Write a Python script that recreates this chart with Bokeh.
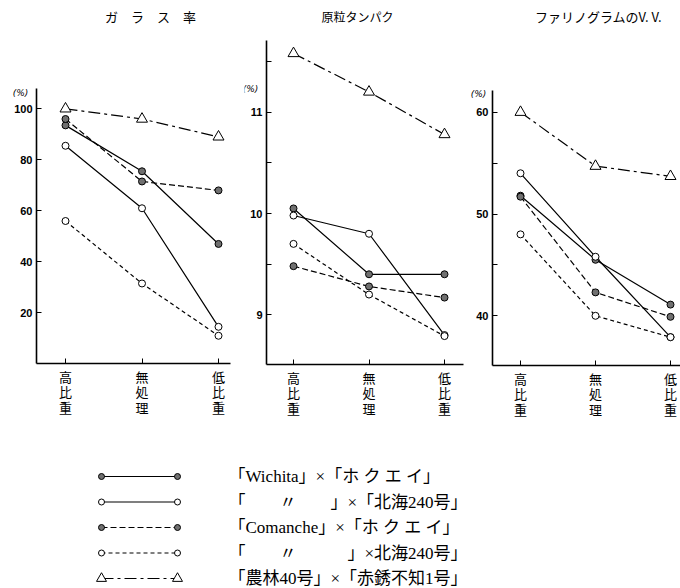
from bokeh.plotting import figure
from bokeh.layouts import column, row
from bokeh.models import Range1d, FixedTicker, Label
from bokeh.core.properties import value
from bokeh.embed import file_html
from bokeh.resources import INLINE

# ---------------- data ----------------
categories = ["高比重", "無処理", "低比重"]
category_tick_labels = ["高\n比\n重", "無\n処\n理", "低\n比\n重"]
x_pos = [0, 1, 2]

panel_titles = ["ガ　ラ　ス　率", "原粒タンパク", "ファリノグラムのV. V."]
unit_label = "(%)"

series_labels = [
    "「Wichita」×「ホ ク エ イ」",
    "「　　〃　　」×「北海240号」",
    "「Comanche」×「ホ ク エ イ」",
    "「　　〃　　　」×北海240号」",
    "「農林40号」×「赤銹不知1号」",
]

# ガラス率 (%)
glass_wichita_hokuei = [93.5, 75.5, 47.0]
glass_wichita_hokkai = [85.5, 61.0, 14.5]
glass_comanche_hokuei = [96.0, 71.5, 68.0]
glass_comanche_hokkai = [56.0, 31.5, 11.0]
glass_norin = [100.0, 96.0, 89.0]
glass_ticks = [20, 40, 60, 80, 100]

# 原粒タンパク (%)
protein_wichita_hokuei = [10.05, 9.40, 9.40]
protein_wichita_hokkai = [9.98, 9.80, 8.80]
protein_comanche_hokuei = [9.48, 9.28, 9.17]
protein_comanche_hokkai = [9.70, 9.20, 8.79]
protein_norin = [11.58, 11.20, 10.78]
protein_ticks = [9, 10, 11]
protein_minor_ticks = [9.5, 10.5, 11.5]

# ファリノグラムの V.V.
vv_wichita_hokuei = [51.8, 45.5, 41.1]
vv_wichita_hokkai = [54.0, 45.8, 37.9]
vv_comanche_hokuei = [51.7, 42.3, 39.9]
vv_comanche_hokkai = [48.0, 40.0, 37.9]
vv_norin = [60.0, 54.7, 53.7]
vv_ticks = [40, 50, 60]
vv_minor_ticks = [45, 55]

# ---------------- styles ----------------
CJK = "Noto Sans CJK JP"
SERIF = "'Liberation Serif', 'Noto Sans CJK JP'"
GREY = "#707070"

styles = [
    dict(dash="solid", marker="circle", fill=GREY, size=7, width=1.2),
    dict(dash="solid", marker="circle", fill="white", size=7, width=1.2),
    dict(dash="6 3", marker="circle", fill=GREY, size=7, width=1.2),
    dict(dash="4 3", marker="circle", fill="white", size=7, width=1.2),
    dict(dash="12 4 3 4", marker="triangle", fill="white", size=11, width=1.2),
]

FIG_TOP, FIG_BOTTOM = 0, 420


def make_panel(series, fig_l, fig_r, cat_px, y_ref, y_axis_px, y_axis_top,
               x_axis_py, x_axis_right, ticks, minor_ticks,
               title, title_pos, title_size, unit_pos):
    step = (cat_px[2] - cat_px[0]) / 2.0
    x_start = (fig_l - cat_px[0]) / step
    x_end = (fig_r - cat_px[0]) / step
    (v1, py1), (v2, py2) = y_ref
    ppu = (py1 - py2) / (v2 - v1)
    y_start = v1 - (FIG_BOTTOM - py1) / ppu
    y_end = v1 + (py1 - FIG_TOP) / ppu

    def dx(sx):
        return x_start + (sx - fig_l) / step

    def dy(sy):
        return y_start + (FIG_BOTTOM - sy) / ppu

    p = figure(width=fig_r - fig_l, height=FIG_BOTTOM - FIG_TOP,
               x_range=Range1d(x_start, x_end), y_range=Range1d(y_start, y_end),
               output_backend="svg", toolbar_location=None, min_border=0)
    p.outline_line_color = None
    p.xgrid.visible = False
    p.ygrid.visible = False
    p.background_fill_color = "white"
    p.border_fill_color = "white"

    # x axis
    xa = p.xaxis[0]
    xa.fixed_location = dy(x_axis_py)
    xa.bounds = (dx(y_axis_px), dx(x_axis_right))
    xa.ticker = FixedTicker(ticks=x_pos, minor_ticks=[])
    xa.major_label_overrides = {x: lab for x, lab in zip(x_pos, category_tick_labels)}
    xa.major_label_text_font = CJK
    xa.major_label_text_font_size = "13px"
    xa.major_label_text_line_height = 0.82
    xa.major_label_text_color = "black"
    xa.major_label_standoff = 3
    xa.major_tick_in = 5
    xa.major_tick_out = 0
    xa.axis_line_width = 1.6
    xa.axis_line_color = "black"
    xa.major_tick_line_color = "black"

    # y axis
    ya = p.yaxis[0]
    ya.fixed_location = dx(y_axis_px)
    ya.bounds = (dy(x_axis_py), dy(y_axis_top))
    ya.ticker = FixedTicker(ticks=ticks, minor_ticks=minor_ticks)
    ya.major_label_text_font = "Liberation Sans"
    ya.major_label_text_font_style = "bold"
    ya.major_label_text_font_size = "11px"
    ya.major_label_text_color = "black"
    ya.major_label_standoff = 4
    ya.major_tick_in = 5
    ya.major_tick_out = 0
    ya.minor_tick_in = 5
    ya.minor_tick_out = 0
    ya.axis_line_width = 1.6
    ya.axis_line_color = "black"
    ya.major_tick_line_color = "black"
    ya.minor_tick_line_color = "black"

    for vals, st in zip(series, styles):
        p.line(x_pos, vals, line_color="black", line_width=st["width"], line_dash=st["dash"])
    for vals, st in zip(series, styles):
        p.scatter(x_pos, vals, marker=st["marker"], size=st["size"],
                  fill_color=st["fill"], line_color="black", line_width=1)

    p.add_layout(Label(x=dx(title_pos[0]), y=dy(title_pos[1]), text=title,
                       text_font=CJK, text_font_size=title_size,
                       text_align="center", text_baseline="middle", text_color="black"))
    p.add_layout(Label(x=dx(unit_pos[0]), y=dy(unit_pos[1]), text=unit_label,
                       text_font="DejaVu Sans", text_font_size="9px",
                       text_font_style="italic",
                       text_align="center", text_baseline="middle", text_color="black"))
    return p


p1 = make_panel([glass_wichita_hokuei, glass_wichita_hokkai, glass_comanche_hokuei,
                 glass_comanche_hokkai, glass_norin],
                fig_l=0, fig_r=244, cat_px=(65, 140, 218),
                y_ref=((20, 312.3), (100, 108.3)), y_axis_px=36, y_axis_top=88,
                x_axis_py=363, x_axis_right=230,
                ticks=glass_ticks, minor_ticks=[],
                title=panel_titles[0], title_pos=(150, 16), title_size="13px",
                unit_pos=(20, 92))

p2 = make_panel([protein_wichita_hokuei, protein_wichita_hokkai, protein_comanche_hokuei,
                 protein_comanche_hokkai, protein_norin],
                fig_l=244, fig_r=470, cat_px=(293, 369, 444),
                y_ref=((9, 314.3), (11, 111.7)), y_axis_px=266, y_axis_top=40,
                x_axis_py=364, x_axis_right=463,
                ticks=protein_ticks, minor_ticks=protein_minor_ticks,
                title=panel_titles[1], title_pos=(357, 16), title_size="12px",
                unit_pos=(250, 88))

p3 = make_panel([vv_wichita_hokuei, vv_wichita_hokkai, vv_comanche_hokuei,
                 vv_comanche_hokkai, vv_norin],
                fig_l=470, fig_r=680, cat_px=(520, 595, 670),
                y_ref=((40, 315.3), (60, 111.7)), y_axis_px=492, y_axis_top=90,
                x_axis_py=365, x_axis_right=680,
                ticks=vv_ticks, minor_ticks=vv_minor_ticks,
                title=panel_titles[2], title_pos=(598, 16), title_size="13px",
                unit_pos=(478, 93))

# ---------------- legend (drawn in its own strip) ----------------
leg = figure(width=680, height=168, x_range=Range1d(0, 680), y_range=Range1d(588, 420),
             output_backend="svg", toolbar_location=None,
             x_axis_type=None, y_axis_type=None, min_border=0)
leg.outline_line_color = None
leg.xgrid.visible = False
leg.ygrid.visible = False

row_y0, row_step = 476, 25.5
sample_x0, sample_x1, text_x = 101, 177, 228
for i, (lab, st) in enumerate(zip(series_labels, styles)):
    yy = row_y0 + i * row_step
    leg.line([sample_x0, sample_x1], [yy, yy], line_color="black",
             line_width=st["width"], line_dash=st["dash"])
    leg.scatter([sample_x0, sample_x1], [yy, yy], marker=st["marker"],
                size=st["size"] - 1, fill_color=st["fill"], line_color="black")
    leg.text([text_x], [yy], text=[lab], text_font=value(SERIF),
             text_font_size="17px", text_baseline="middle", text_align="left",
             text_color="black")

layout = column(row(p1, p2, p3), leg)

open("out.html", "w").write(file_html(layout, INLINE))
